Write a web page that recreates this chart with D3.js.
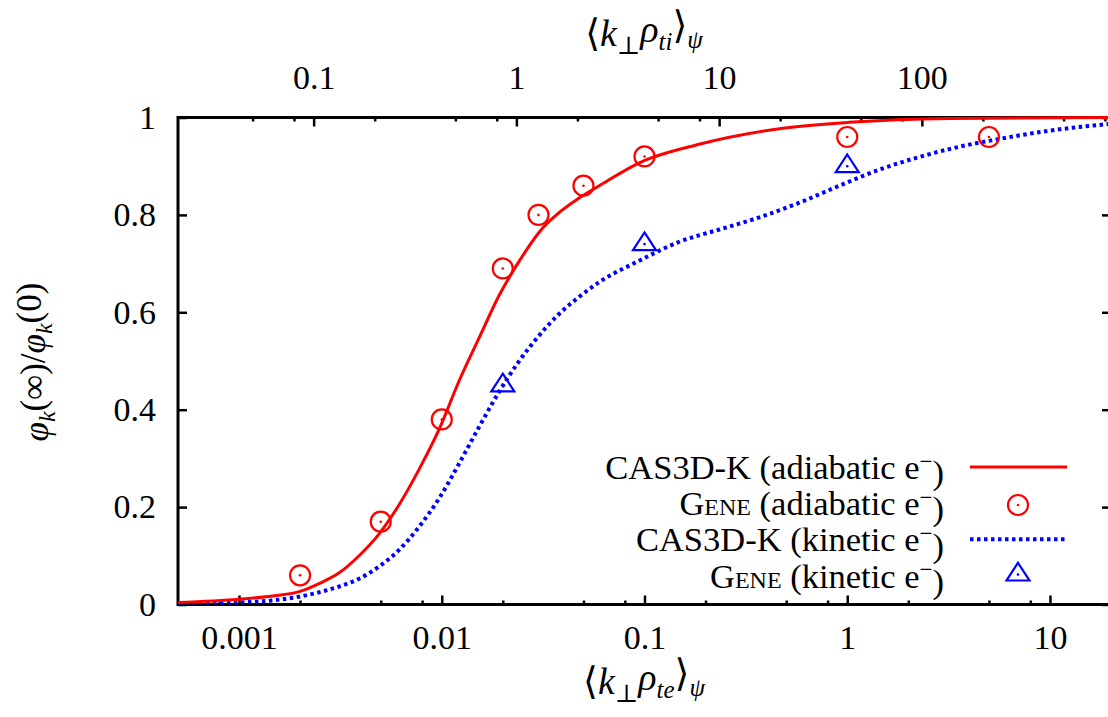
<!DOCTYPE html>
<html>
<head>
<meta charset="utf-8">
<script src="https://cdn.jsdelivr.net/npm/d3@7"></script>
<style>
  body { margin: 0; background: #fff; }
</style>
</head>
<body>
<div id="chart"></div>
<script>
// CAS3D-K curves
const adiabaticK   = [0.0005, 0.001, 0.0015, 0.002, 0.00248, 0.00312, 0.00391, 0.00491, 0.00616, 0.00774, 0.00971, 0.0122, 0.0153, 0.0192, 0.0241, 0.0303, 0.038, 0.0477, 0.0598, 0.0943, 0.186, 0.463, 1.02, 3.2, 20];
const adiabaticPhi = [0.004, 0.011, 0.018, 0.027, 0.043, 0.065, 0.1, 0.145, 0.205, 0.278, 0.36, 0.46, 0.548, 0.635, 0.705, 0.765, 0.805, 0.835, 0.86, 0.907, 0.945, 0.977, 0.99, 0.998, 1.0];

const kineticK   = [0.0005, 0.001, 0.00158, 0.00198, 0.00248, 0.00312, 0.00391, 0.00491, 0.00616, 0.00774, 0.00971, 0.0122, 0.0153, 0.0192, 0.0241, 0.0303, 0.038, 0.0477, 0.0598, 0.0943, 0.149, 0.234, 0.369, 0.581, 0.915, 1.44, 2.27, 3.58, 5.64, 9.95, 20];
const kineticPhi = [0.001, 0.004, 0.010, 0.016, 0.025, 0.037, 0.053, 0.078, 0.112, 0.16, 0.218, 0.29, 0.365, 0.437, 0.50, 0.553, 0.597, 0.632, 0.662, 0.706, 0.745, 0.77, 0.795, 0.825, 0.86, 0.893, 0.919, 0.94, 0.956, 0.973, 0.987];

// GENE points
const geneAdiabaticK   = [0.002, 0.005, 0.01, 0.02, 0.03, 0.05, 0.1, 1, 5];
const geneAdiabaticPhi = [0.06, 0.17, 0.38, 0.69, 0.80, 0.86, 0.92, 0.96, 0.96];
const geneKineticK   = [0.02, 0.1, 1];
const geneKineticPhi = [0.45, 0.74, 0.90];

// axes
const xDomain = [0.0005, 20];
const rhoRatio = 42.85;           // rho_ti / rho_te
const xTicks  = [0.001, 0.01, 0.1, 1, 10];
const x2Ticks = [0.1, 1, 10, 100];
const yTicks  = [0, 0.2, 0.4, 0.6, 0.8, 1];
const minorMult = [2, 5, 8];

const width = 1108, height = 717;
const plotLeft = 178, plotRight = 1111, plotTop = 117.5, plotBottom = 604.5;
const serif = "'Liberation Serif', 'DejaVu Serif', 'Noto Serif', FreeSerif, 'Nimbus Roman', Tinos, 'Times New Roman', Times, serif";

const svg = d3.select("#chart").append("svg")
  .attr("width", width).attr("height", height);

const x = d3.scaleLog().domain(xDomain).range([plotLeft, plotRight]);
const x2 = d3.scaleLog().domain(xDomain.map(d => d * rhoRatio)).range([plotLeft, plotRight]);
const y = d3.scaleLinear().domain([0, 1]).range([plotBottom, plotTop]);

function minors(scale) {
  const [a, b] = scale.domain();
  const out = [];
  for (let e = Math.floor(Math.log10(a)); e <= Math.ceil(Math.log10(b)); e++) {
    minorMult.forEach(m => {
      const v = m * Math.pow(10, e);
      if (v > a && v < b) out.push(v);
    });
  }
  return out;
}

const fmt = d => String(+d.toPrecision(3));

// bottom axis
svg.append("g").attr("transform", `translate(0,${plotBottom})`)
  .call(d3.axisBottom(x).tickValues(xTicks).tickFormat(fmt).tickSize(-9).tickPadding(20));
svg.append("g").attr("transform", `translate(0,${plotBottom})`)
  .call(d3.axisBottom(x).tickValues(minors(x)).tickFormat("").tickSize(-4));

// top axis
svg.append("g").attr("transform", `translate(0,${plotTop})`)
  .call(d3.axisTop(x2).tickValues(x2Ticks).tickFormat(fmt).tickSize(-9).tickPadding(29));
svg.append("g").attr("transform", `translate(0,${plotTop})`)
  .call(d3.axisTop(x2).tickValues(minors(x2)).tickFormat("").tickSize(-4));

// left / right
svg.append("g").attr("transform", `translate(${plotLeft},0)`)
  .call(d3.axisLeft(y).tickValues(yTicks).tickFormat(d => d === 0 || d === 1 ? d : d.toFixed(1)).tickSize(-9).tickPadding(22));
svg.append("g").attr("transform", `translate(${plotRight},0)`)
  .call(d3.axisRight(y).tickValues(yTicks).tickFormat("").tickSize(-9));

svg.selectAll(".domain").remove();
svg.selectAll(".tick line").attr("stroke", "#000").attr("stroke-width", 2.5);
svg.selectAll(".tick text").attr("fill", "#000")
  .attr("font-family", serif).attr("font-size", 34);

// frame
svg.append("rect")
  .attr("x", plotLeft).attr("y", plotTop)
  .attr("width", plotRight - plotLeft).attr("height", plotBottom - plotTop)
  .attr("fill", "none").attr("stroke", "#000").attr("stroke-width", 3);

// clip
svg.append("clipPath").attr("id", "plot")
  .append("rect").attr("x", plotLeft).attr("y", plotTop - 2)
  .attr("width", plotRight - plotLeft).attr("height", plotBottom - plotTop + 2);

const line = d3.line().x(d => x(d[0])).y(d => y(d[1])).curve(d3.curveMonotoneX);
const plot = svg.append("g").attr("clip-path", "url(#plot)");

plot.append("path")
  .datum(d3.zip(kineticK, kineticPhi))
  .attr("d", line)
  .attr("fill", "none").attr("stroke", "#0000ff")
  .attr("stroke-width", 4).attr("stroke-dasharray", "3.5,3.5");

plot.append("path")
  .datum(d3.zip(adiabaticK, adiabaticPhi))
  .attr("d", line)
  .attr("fill", "none").attr("stroke", "#ff0000").attr("stroke-width", 3);

function circleMark(g, cx, cy) {
  g.append("circle").attr("cx", cx).attr("cy", cy).attr("r", 10)
    .attr("fill", "none").attr("stroke", "#ff0000").attr("stroke-width", 2.2);
  g.append("circle").attr("cx", cx).attr("cy", cy).attr("r", 1.3).attr("fill", "#ff0000");
}
function triMark(g, cx, cy) {
  g.append("path")
    .attr("d", `M${cx},${cy - 11.7}L${cx + 11.5},${cy + 6}L${cx - 11.5},${cy + 6}Z`)
    .attr("fill", "none").attr("stroke", "#0000ff").attr("stroke-width", 2.2);
  g.append("circle").attr("cx", cx).attr("cy", cy).attr("r", 1.3).attr("fill", "#0000ff");
}

const marks = svg.append("g");
d3.zip(geneAdiabaticK, geneAdiabaticPhi).forEach(d => circleMark(marks, x(d[0]), y(d[1])));
d3.zip(geneKineticK, geneKineticPhi).forEach(d => triMark(marks, x(d[0]), y(d[1])));

// legend
const legendRows = [
  { code: "CAS3D-K", kind: "adiabatic", type: "line" },
  { code: "Gene", kind: "adiabatic", type: "circle" },
  { code: "CAS3D-K", kind: "kinetic", type: "dots" },
  { code: "Gene", kind: "kinetic", type: "tri" }
];
const legendY = [467, 503, 539.3, 575.5];
const legend = svg.append("g");
legendRows.forEach((r, i) => {
  const ly = legendY[i];
  const t = legend.append("text")
    .attr("x", 944).attr("y", ly).attr("dy", "0.35em")
    .attr("text-anchor", "end")
    .attr("font-family", serif).attr("font-size", 34.5);
  t.append("tspan").style("font-variant", r.code === "Gene" ? "small-caps" : "normal").text(r.code);
  t.append("tspan").text(` (${r.kind} e`);
  t.append("tspan").attr("dy", "-0.45em").attr("font-size", 23).text("\u2212");
  t.append("tspan").attr("dy", "0.45em").text(")");

  if (r.type === "line") {
    legend.append("line").attr("x1", 970).attr("x2", 1067).attr("y1", ly).attr("y2", ly)
      .attr("stroke", "#ff0000").attr("stroke-width", 3);
  } else if (r.type === "dots") {
    legend.append("line").attr("x1", 970).attr("x2", 1067).attr("y1", ly).attr("y2", ly)
      .attr("stroke", "#0000ff").attr("stroke-width", 4).attr("stroke-dasharray", "3.5,3.5");
  } else if (r.type === "circle") {
    circleMark(legend, 1018, ly + 2);
  } else {
    triMark(legend, 1018, ly - 1);
  }
});

// axis titles
function kLabel(sel, sub) {
  sel.append("tspan").text("\u27E8");
  sel.append("tspan").attr("font-style", "italic").text("k");
  sel.append("tspan").attr("dy", "0.3em").attr("font-size", 25).text("\u22A5");
  sel.append("tspan").attr("dy", "-0.3em").attr("font-style", "italic").text("\u03C1");
  sel.append("tspan").attr("dy", "0.3em").attr("font-size", 25).attr("font-style", "italic").text(sub);
  sel.append("tspan").attr("dy", "-0.3em").text("\u27E9");
  sel.append("tspan").attr("dy", "0.4em").attr("font-size", 25).attr("font-style", "italic").text("\u03C8");
}
kLabel(svg.append("text").attr("x", 644).attr("y", 46).attr("text-anchor", "middle")
  .attr("font-family", serif).attr("font-size", 38), "ti");
kLabel(svg.append("text").attr("x", 644).attr("y", 694).attr("text-anchor", "middle")
  .attr("font-family", serif).attr("font-size", 38), "te");

const yl = svg.append("text")
  .attr("transform", "translate(48,362) rotate(-90)")
  .attr("text-anchor", "middle")
  .attr("font-family", serif).attr("font-size", 35);
yl.append("tspan").attr("font-style", "italic").text("\u03C6");
yl.append("tspan").attr("dy", "0.3em").attr("font-size", 24).attr("font-style", "italic").text("k");
yl.append("tspan").attr("dy", "-0.3em").text("(\u221E)/");
yl.append("tspan").attr("font-style", "italic").text("\u03C6");
yl.append("tspan").attr("dy", "0.3em").attr("font-size", 24).attr("font-style", "italic").text("k");
yl.append("tspan").attr("dy", "-0.3em").text("(0)");
</script>
</body>
</html>
